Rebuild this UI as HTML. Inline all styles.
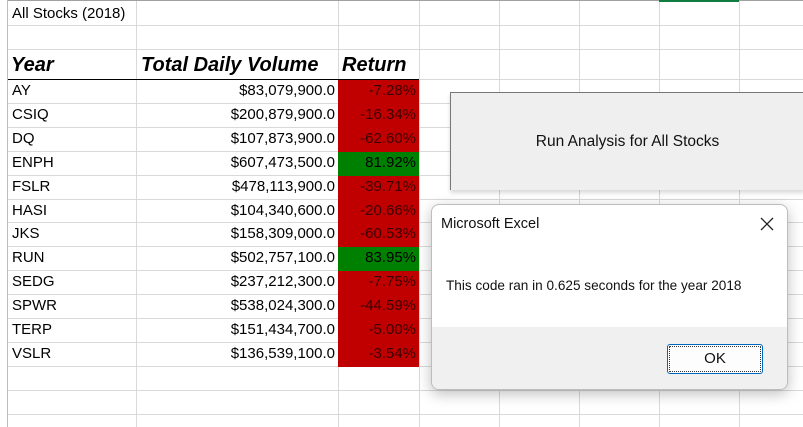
<!DOCTYPE html>
<html><head><meta charset="utf-8"><style>
body{margin:0;width:803px;height:427px;overflow:hidden;background:#fff;font-family:"Liberation Sans",sans-serif;position:relative}
.vl{position:absolute;top:0;width:1px;height:427px;background:#d9d9d9}
.hl{position:absolute;left:8px;height:1px;width:795px;background:#d9d9d9}
.c{position:absolute;font-size:15px;line-height:24px;height:24px;white-space:nowrap;color:#000}
.r{text-align:right}
</style></head><body>
<div id="grid"></div>
<div style="position:absolute;left:0;top:0;width:7px;height:427px;background:#fff;border-right:1px solid #bdbdbd"></div>
<div style="position:absolute;left:8px;top:0;width:795px;height:1px;background:#a0a0a0"></div>
<div style="position:absolute;left:659px;top:0;width:80px;height:2px;background:#107c41"></div>
<div class="c" style="left:12px;top:3px;height:21px;line-height:21px;background:#fff;padding-right:4px">All Stocks (2018)</div>
<div id="tbl"></div>
<div style="position:absolute;left:8px;top:79px;width:411px;height:1px;background:#000"></div>
<div style="position:absolute;left:450px;top:92px;width:353px;height:97px;background:#efefef;border-left:1px solid #777;border-top:1px solid #777;box-shadow:0 3px 4px rgba(0,0,0,.15)"><div style="position:absolute;left:0;right:0;top:40px;text-align:center;font-size:15.5px;color:#111">Run Analysis for All Stocks</div></div>
<div style="position:absolute;left:431px;top:204px;width:355px;height:184px;border:1px solid #bdbdbd;border-radius:8px;background:#fff;overflow:hidden;box-shadow:0 4px 14px rgba(0,0,0,.25)">
<div style="position:absolute;left:9px;top:11px;font-size:14.5px;color:#111">Microsoft Excel</div>
<svg style="position:absolute;left:328px;top:12px" width="14" height="14"><path d="M1 1L13 13M13 1L1 13" stroke="#222" stroke-width="1.3"/></svg>
<div style="position:absolute;left:14px;top:73px;font-size:13.6px;color:#111">This code ran in 0.625 seconds for the year 2018</div>
<div style="position:absolute;left:0;top:122px;width:355px;height:62px;background:#f0f0f0"></div>
<div style="position:absolute;left:235px;top:139px;width:94px;height:28px;border:1px solid #0067c0;border-radius:3px;background:#fdfdfd;text-align:center;line-height:28px;font-size:15px;color:#111;outline:1px dotted #333;outline-offset:-3px">OK</div>
</div>
<script>
const tickers=["AY","CSIQ","DQ","ENPH","FSLR","HASI","JKS","RUN","SEDG","SPWR","TERP","VSLR"];
const volumes=["$83,079,900.0","$200,879,900.0","$107,873,900.0","$607,473,500.0","$478,113,900.0","$104,340,600.0","$158,309,000.0","$502,757,100.0","$237,212,300.0","$538,024,300.0","$151,434,700.0","$136,539,100.0"];
const returns=[-7.28,-16.34,-62.60,81.92,-39.71,-20.66,-60.53,83.95,-7.75,-44.59,-5.00,-3.54];
const g=document.getElementById('grid');
[136,338,419,499,579,659,739].forEach(x=>{const d=document.createElement('div');d.className='vl';d.style.left=x+'px';

g.appendChild(d);});
const rows=[25,49,79];for(let i=1;i<15;i++)rows.push(79+i*23.9);
rows.forEach(y=>{const d=document.createElement('div');d.className='hl';d.style.top=Math.round(y)+'px';

g.appendChild(d);});
const t=document.getElementById('tbl');
function cell(txt,css,name){const d=document.createElement('div');d.className='c';d.style.cssText=css;d.textContent=txt;

t.appendChild(d);return d;}
const hs='top:52px;font-size:20px;font-weight:bold;font-style:italic;line-height:26px;height:26px;';
cell('Year',hs+'left:11px','year-header');
cell('Total Daily Volume',hs+'left:141px','volume-header');
cell('Return',hs+'left:342px','return-header');
tickers.forEach((tk,i)=>{const y=Math.round(80+i*23.9);
cell(tk,'left:12px;top:'+(y-1)+'px','ticker-cell');
cell(volumes[i],'left:137px;width:198px;top:'+(y-1)+'px','volume-cell').classList.add('r');
const v=returns[i];
const d=cell(v.toFixed(2)+'%','left:338px;width:78px;padding-right:3px;top:'+y+'px;height:24px;background:'+(v>=0?'#008000':'#c00000')+';color:'+(v>=0?'#000':'#3a0000'),'return-cell');
d.classList.add('r');d.style.lineHeight='22px';});
</script>
</body></html>
